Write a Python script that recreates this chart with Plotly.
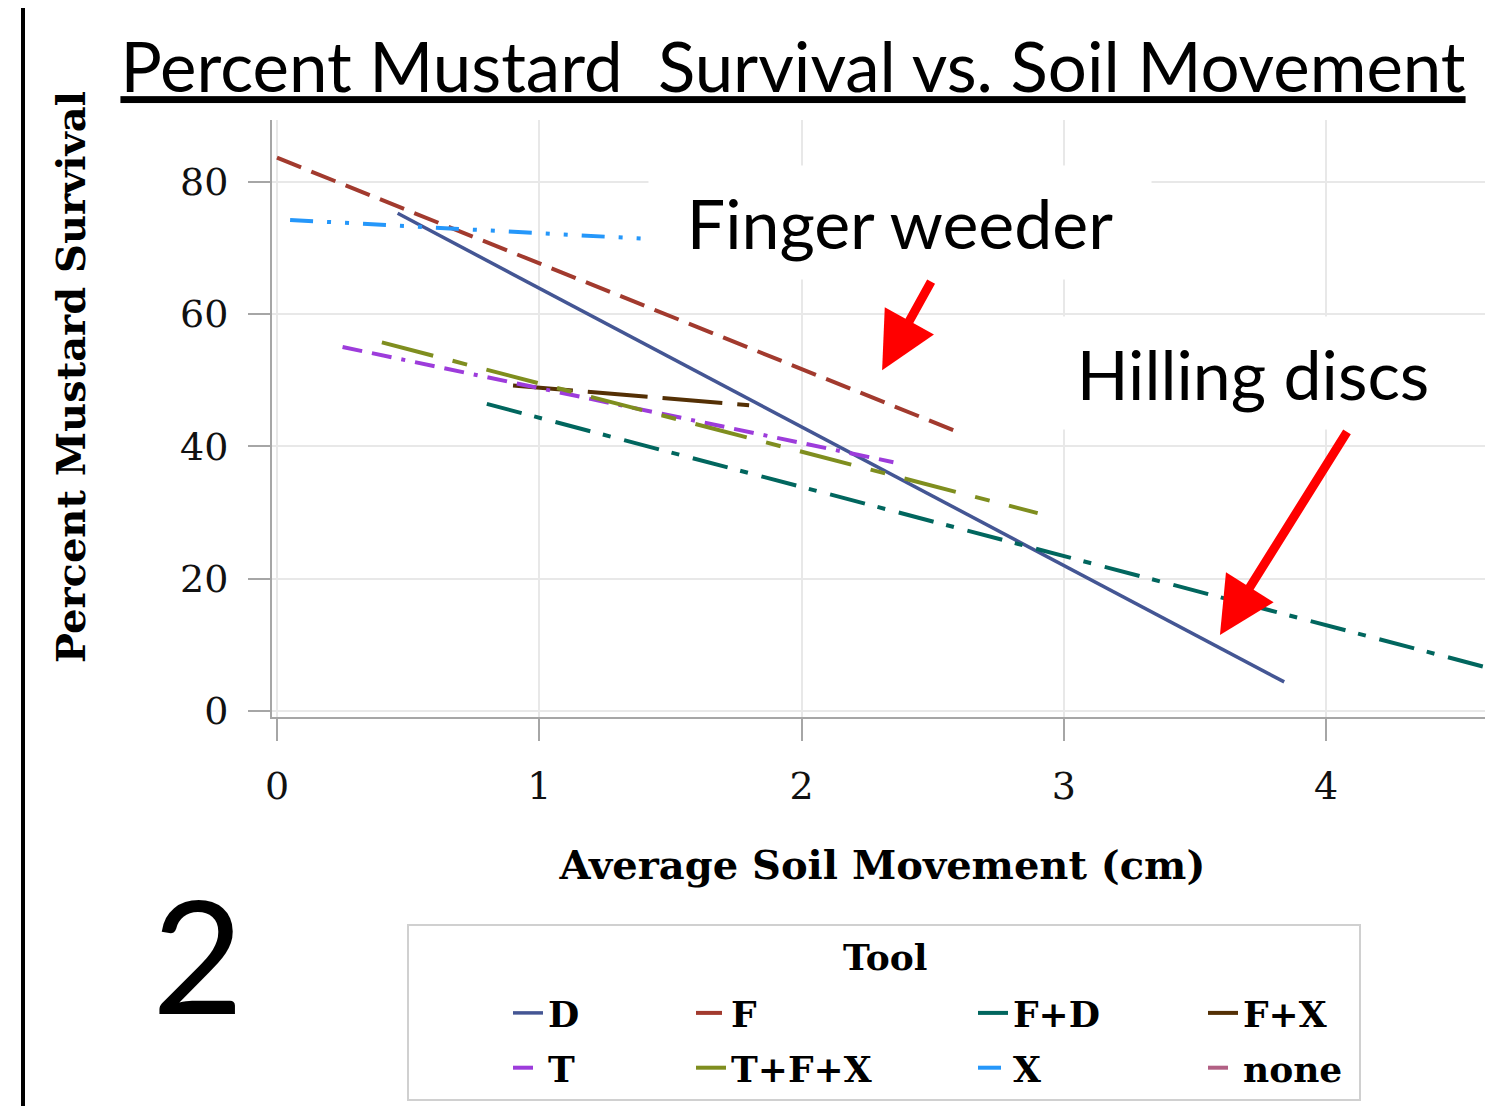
import plotly.graph_objects as go

# ---- data ----
tools   = ["D", "F", "F+D", "F+X", "T", "T+F+X", "X", "none"]
x_start = [0.46, 0.00, 0.80, 0.90, 0.25, 0.40, 0.05, None]
x_end   = [3.84, 2.60, 4.61, 1.80, 2.35, 2.90, 1.43, None]
y_start = [75.2, 83.6, 46.4, 49.2, 55.0, 55.7, 74.2, None]
y_end   = [4.4, 42.1, 6.6, 46.2, 37.6, 29.9, 71.3, None]

x_ticks = [0, 1, 2, 3, 4]
y_ticks = [0, 20, 40, 60, 80]

colors = ["#445694", "#A23A2E", "#01665E", "#543005",
          "#9D3CDB", "#7F8E1F", "#2597FA", "#B26084"]
dashes = ["solid", "26px,11px", "36px,13px,8px,14px", "60px,15px",
          "20px,10px,20px,10px,4px,10px", "53px,20px,15px,20px",
          "23px,14px,4px,14px,4px,14px", "20px,12px"]
widths = [3.5, 4, 4, 4, 4, 4, 4, 4]

# page body has an 8px margin: figure is placed at (8, 8) on screen
OFF = 8
W, H = 1485, 1098
ML, MR, MT, MB = 264, 0, 112, 389
PW, PH = W - ML - MR, H - MT - MB


def px_x(p):  # screen pixel -> paper x
    return (p - OFF - ML) / PW


def px_y(p):  # screen pixel -> paper y
    return (H - MB - (p - OFF)) / PH


legend_names = ["legend", "legend2", "legend3", "legend4"]
legend_left = [508, 691, 973, 1203]   # screen px of each legend column

fig = go.Figure()
for i, t in enumerate(tools):
    fig.add_trace(go.Scatter(
        x=[x_start[i], x_end[i]], y=[y_start[i], y_end[i]],
        mode="lines", name=t, legendgroup=t,
        line=dict(color=colors[i], width=widths[i], dash=dashes[i]),
        legend=legend_names[i % 4],
    ))

serif = "DejaVu Serif"
sans = "Lato"
axis_common = dict(
    showline=True, linecolor="#a6a6a6", linewidth=2,
    ticks="outside", ticklen=22, tickwidth=2, tickcolor="#a6a6a6",
    showgrid=True, gridcolor="#e8e8e8", gridwidth=2,
    zeroline=False,
    tickfont=dict(family=serif, size=38, color="#111111"),
)

legend_style = dict(
    orientation="v", xanchor="left", yanchor="top",
    traceorder="grouped", tracegroupgap=5,
    bgcolor="rgba(0,0,0,0)", borderwidth=0,
    font=dict(family=serif, size=36, color="black", weight="bold"),
)
legends = {}
for k, nm in enumerate(legend_names):
    legends[nm] = dict(x=px_x(legend_left[k]), y=px_y(983), **legend_style)

fig.update_layout(
    width=W, height=H,
    margin=dict(l=ML, r=MR, t=MT, b=MB, autoexpand=False),
    paper_bgcolor="white", plot_bgcolor="white",
    title=dict(
        text="<u>Percent Mustard  Survival vs. Soil Movement</u>",
        font=dict(family=sans, size=69, color="black"),
        xref="paper", x=px_x(793), xanchor="center",
        yref="container", y=1 - (68 - OFF) / H, yanchor="middle",
    ),
    xaxis=dict(range=[-0.019, 4.636], tickvals=x_ticks,
               ticklabelstandoff=12,
               title=dict(text="<b>Average Soil Movement (cm)</b>",
                          font=dict(family=serif, size=40, color="black"),
                          standoff=44),
               **axis_common),
    yaxis=dict(range=[-0.9, 89.3], tickvals=y_ticks,
               ticklabelstandoff=12,
               **axis_common),
    showlegend=True,
    **legends,
)

# y-axis title (sits above the axis centre in the reference)
fig.add_annotation(text="<b>Percent Mustard Survival</b>", xref="paper", yref="paper",
                   x=px_x(70), y=px_y(377), xanchor="center", yanchor="middle",
                   textangle=-90, showarrow=False,
                   font=dict(family=serif, size=40, color="black"))

# legend frame and slide's left rule
fig.add_shape(type="rect", xref="paper", yref="paper",
              x0=px_x(408), x1=px_x(1360), y0=px_y(1100), y1=px_y(925),
              line=dict(color="#d0d0d0", width=2), fillcolor="rgba(0,0,0,0)")
fig.add_shape(type="line", xref="paper", yref="paper",
              x0=px_x(23), x1=px_x(23), y0=px_y(1106 + OFF), y1=px_y(0),
              line=dict(color="black", width=4))

# legend title
fig.add_annotation(text="<b>Tool</b>", xref="paper", yref="paper",
                   x=px_x(885), y=px_y(957), xanchor="center", yanchor="middle",
                   showarrow=False,
                   font=dict(family=serif, size=36, color="black"))

# callout labels with white boxes
fig.add_annotation(text="Finger weeder", xref="x", yref="y",
                   x=2.375, y=73.8, xanchor="center", yanchor="middle",
                   showarrow=False,
                   width=500, height=111, bgcolor="white",
                   font=dict(family=sans, size=68, color="black"))
fig.add_annotation(text="Hilling discs", xref="x", yref="y",
                   x=3.72, y=51.1, xanchor="center", yanchor="middle",
                   showarrow=False,
                   width=400, height=110, bgcolor="white",
                   font=dict(family=sans, size=68, color="black"))

# red arrows
fig.add_annotation(text="", xref="x", yref="y", axref="x", ayref="y",
                   x=2.307, y=51.5, ax=2.497, ay=65.1,
                   showarrow=True, arrowhead=2, arrowsize=1.25,
                   arrowwidth=9, arrowcolor="#ff0000", standoff=0)
fig.add_annotation(text="", xref="x", yref="y", axref="x", ayref="y",
                   x=3.595, y=11.5, ax=4.083, ay=42.4,
                   showarrow=True, arrowhead=2, arrowsize=1.25,
                   arrowwidth=9, arrowcolor="#ff0000", standoff=0)

# slide number
fig.add_annotation(text="2", xref="paper", yref="paper",
                   x=px_x(198), y=px_y(953), xanchor="center", yanchor="middle",
                   showarrow=False,
                   font=dict(family=sans, size=158, color="black"))

fig.write_html("out.html")
